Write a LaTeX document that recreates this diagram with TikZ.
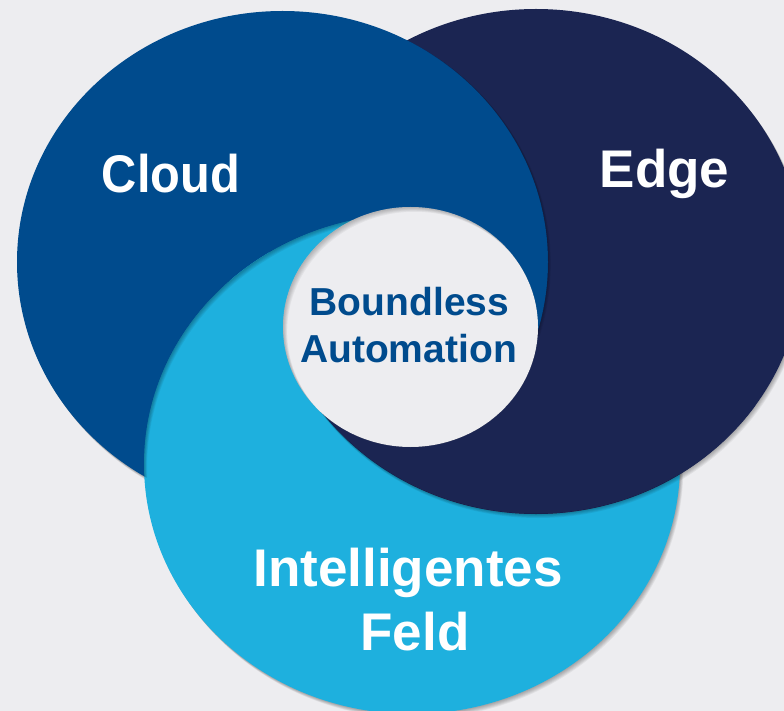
\documentclass[tikz,border=0pt]{standalone}
\usepackage{fontspec}
\usepackage{graphicx}
\setmainfont{Liberation Sans}
\definecolor{bgc}{RGB}{237,237,240}
\definecolor{cloudc}{RGB}{0,75,141}
\definecolor{edgec}{RGB}{27,37,82}
\definecolor{feldc}{RGB}{30,176,222}
\newcommand\pCl[2]{({282.5+#1},{262+#2}) ellipse [x radius=265.5pt, y radius=251pt]}
\newcommand\pEd[2]{({536+#1},{261.5+#2}) ellipse [x radius=267pt, y radius=252.5pt]}
\newcommand\pFe[2]{({412+#1},{464+#2}) ellipse [x radius=268pt, y radius=250pt]}
\newcommand\pHo[2]{({410.5+#1},{327+#2}) ellipse [x radius=127.5pt, y radius=120pt]}
\tikzset{
  biglbl/.style={text=white, font=\fontsize{53}{60}\selectfont\bfseries, inner sep=0pt, anchor=base},
  midlbl/.style={text=cloudc, font=\fontsize{39}{46}\selectfont\bfseries, inner sep=0pt, anchor=base},
  shd/.style={black, opacity=0.055}
}
\begin{document}
\begin{tikzpicture}[x=1pt,y=-1pt]
\useasboundingbox (0,0) rectangle (784,711);
\clip (0,0) rectangle (784,711);
\fill[bgc] (0,0) rectangle (784,711);

% outer drop shadows
\foreach \k in {1,...,6}{
  \fill[shd] \pCl{0.55*\k}{0.75*\k};
  \fill[shd] \pEd{0.55*\k}{0.75*\k};
  \fill[shd] \pFe{0.55*\k}{0.75*\k};
}

% Edge, then Cloud over it
\fill[edgec] \pEd{0}{0};
\fill[cloudc] \pCl{0}{0};

% Feld outside Edge (over Cloud)
\begin{scope}[even odd rule]
  \clip (-20,-20) rectangle (820,740) \pEd{0}{0};
  \fill[feldc] \pFe{0}{0};
\end{scope}
% Feld over the triple zone on the left
\begin{scope}
  \clip (410,327) -- (230,390) -- (230,190) -- (410,190) -- cycle;
  \fill[feldc] \pFe{0}{0};
\end{scope}
% Edge over the triple zone at the bottom
\begin{scope}
  \clip (410,327) -- (230,390) -- (230,740) -- (820,740) -- (820,420) -- cycle;
  \fill[edgec] \pEd{0}{0};
\end{scope}

% darkened rim of Feld along its edge over Cloud
\begin{scope}[even odd rule]
  \clip \pFe{0}{0};
  \clip \pCl{0}{0};
  \clip (0,150) rectangle (365,520);
  \foreach \k in {1,...,5}{
    \fill[black, opacity=0.06] \pFe{0}{0} \pFe{0.6*\k}{0.8*\k};
  }
\end{scope}
% shadow of Cloud on Edge
\begin{scope}[even odd rule]
  \clip \pEd{0}{0};
  \clip (300,0) rectangle (784,335);
  \clip (-20,-20) rectangle (820,740) \pCl{0}{0};
  \foreach \k in {1,...,4}{
    \fill[black, opacity=0.06] \pCl{0.7*\k}{0.5*\k};
  }
\end{scope}
% shadow of Edge on Feld
\begin{scope}[even odd rule]
  \clip \pFe{0}{0};
  \clip (300,400) rectangle (784,711);
  \clip (-20,-20) rectangle (820,740) \pEd{0}{0};
  \foreach \k in {1,...,5}{
    \fill[black, opacity=0.06] \pEd{0.4*\k}{0.8*\k};
  }
\end{scope}

% central hole with inner shadow
\fill[bgc] \pHo{0}{0};
\begin{scope}[even odd rule]
  \clip \pHo{0}{0};
  \foreach \k in {1,...,6}{
    \fill[black, opacity=0.045] \pHo{0}{0} \pHo{0.7*\k}{0.8*\k};
  }
\end{scope}

% labels
\node[biglbl] (cloud) at (171,193) {\scalebox{0.92}[1]{Cloud}};
\node[biglbl] (edge) at (664.5,188) {Edge};
\node[biglbl] (feld1) at (408,586) {Intelligentes};
\node[biglbl] (feld2) at (415,650) {Feld};
\node[midlbl] (ba1) at (409.5,316) {Boundless};
\node[midlbl] (ba2) at (408.5,362) {Automation};
\end{tikzpicture}
\end{document}
